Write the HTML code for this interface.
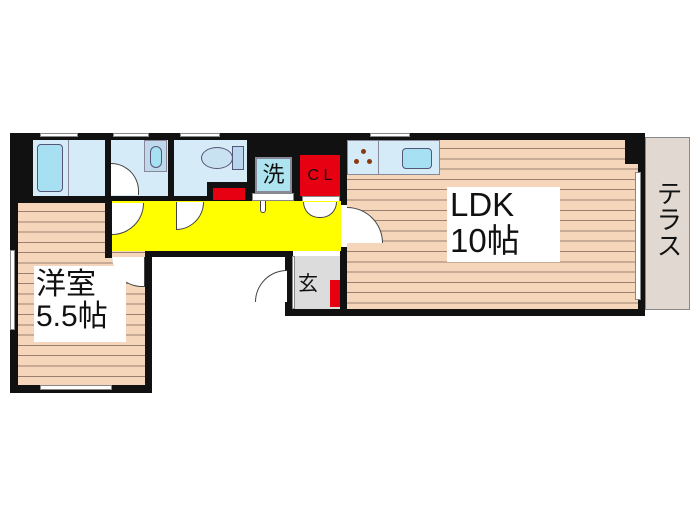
<!DOCTYPE html>
<html><head><meta charset="utf-8"><style>
body{margin:0;width:700px;height:525px;background:#fff;position:relative;overflow:hidden;font-family:"Liberation Sans","Noto Sans CJK JP",sans-serif}
div{position:absolute;box-sizing:border-box}
.k{background:#111}
.wood{background:repeating-linear-gradient(180deg,#f6d6ba 0,#f6d6ba 8px,#9a8070 8px,#9a8070 9px,#f6d6ba 9px,#f6d6ba 10.3px)}
.lb{background:#d6ebf8}
.lbl{background:#fff;color:#111;line-height:1.08}
.win{background:#fff;border:1px solid #888}
</style></head><body>
<div class="k" style="left:10px;top:133px;width:337px;height:70px"></div>
<div class="k" style="left:10px;top:133px;width:8px;height:260px"></div>
<div class="k" style="left:10px;top:385px;width:142px;height:8px"></div>
<div class="k" style="left:145px;top:250px;width:7px;height:143px"></div>
<div class="k" style="left:145px;top:250px;width:147px;height:7px"></div>
<div class="k" style="left:285px;top:250px;width:8px;height:66px"></div>
<div class="k" style="left:285px;top:309px;width:360px;height:7px"></div>
<div class="k" style="left:340px;top:133px;width:305px;height:8px"></div>
<div class="k" style="left:340px;top:133px;width:8px;height:183px"></div>
<div class="k" style="left:638px;top:133px;width:7px;height:183px"></div>
<div class="lb" style="left:33px;top:140px;width:72px;height:56px"></div>
<div style="left:37px;top:144px;width:26px;height:48px;background:#a6e0f2;border:1px solid #557;border-radius:4px"></div>
<div style="left:68px;top:140px;width:1px;height:56px;background:#889"></div>
<div class="lb" style="left:111px;top:140px;width:57px;height:56px"></div>
<div style="left:144px;top:140px;width:23px;height:32px;background:#c0d8ec;border:1px solid #889"></div>
<div style="left:150px;top:146px;width:12px;height:22px;background:#a6e0f2;border:1px solid #557;border-radius:6px"></div>
<div style="left:111px;top:163px;width:28px;height:32px;background:#fff;border:1px solid #444;border-left:none;border-bottom:none;border-radius:0 32px 0 0"></div>
<div class="lb" style="left:174px;top:140px;width:73px;height:56px"></div>
<div class="k" style="left:207px;top:182px;width:40px;height:18px"></div>
<div style="left:213px;top:188px;width:32px;height:12px;background:#e60012"></div>
<div style="left:201px;top:147px;width:32px;height:22px;background:#c8e2f2;border:1px solid #557;border-radius:50%"></div>
<div style="left:232px;top:146px;width:12px;height:24px;background:#b8d6ee;border:1px solid #557"></div>
<div class="win" style="left:40px;top:133px;width:38px;height:4px"></div>
<div class="win" style="left:113px;top:133px;width:36px;height:4px"></div>
<div class="win" style="left:180px;top:133px;width:40px;height:4px"></div>
<div class="win" style="left:370px;top:133px;width:40px;height:4px"></div>
<div style="left:255px;top:157px;width:37px;height:36px;background:#aee4f0;border:2px solid #889;font-size:22px;text-align:center;line-height:31px;color:#111">洗</div>
<div style="left:252px;top:193px;width:42px;height:8px;background:#fff;border:1px solid #888"></div>
<div style="left:300px;top:155px;width:40px;height:41px;background:#e60012;font-size:16px;text-align:center;line-height:41px;color:#111">C&nbsp;L</div>
<div style="left:302px;top:196px;width:38px;height:6px;background:#fff;border:1px solid #888"></div>
<div class="wood" style="left:18px;top:203px;width:127px;height:182px"></div>
<div class="k" style="left:105px;top:196px;width:7px;height:62px"></div>
<div style="left:112px;top:201px;width:229px;height:50px;background:#ffff00"></div>
<div style="left:112px;top:203px;width:32px;height:32px;border:1px solid #444;border-left:none;border-top:none;border-radius:0 0 32px 0;background:#fff"></div>
<div style="left:176px;top:202px;width:28px;height:28px;border:1px solid #444;border-top:none;border-radius:0 0 28px 0;background:#fff"></div>
<div style="left:260px;top:201px;width:6px;height:12px;background:#fff;border:1px solid #444;border-top:none;border-radius:0 0 4px 4px"></div>
<div style="left:303px;top:202px;width:34px;height:16px;background:#fff;border:1px solid #444;border-top:none;border-radius:0 0 16px 16px"></div>
<div style="left:341px;top:205px;width:6px;height:42px;background:#fff"></div>
<div style="left:112px;top:257px;width:33px;height:30px;background:#fff;border-right:1px solid #444;border-bottom:1px solid #444;border-radius:0 0 0 30px"></div>
<div class="win" style="left:10px;top:250px;width:5px;height:80px"></div>
<div class="win" style="left:40px;top:385px;width:72px;height:5px"></div>
<div class="lbl" style="left:34px;top:266px;width:92px;height:76px;font-size:30px;padding:3px 0 0 2px">洋室<br>5.5帖</div>
<div style="left:292px;top:256px;width:48px;height:53px;background:#dcdcdc"></div>
<div style="left:330px;top:280px;width:10px;height:27px;background:#e60012"></div>
<div style="left:292px;top:256px;width:3px;height:53px;background:#fff;border:1px solid #888"></div>
<div style="left:298px;top:267px;font-size:20px;color:#111">玄</div>
<div style="left:255px;top:270px;width:32px;height:32px;border:1px solid #444;border-right:none;border-bottom:none;border-radius:32px 0 0 0;background:#fff"></div>
<div class="wood" style="left:347px;top:140px;width:291px;height:169px"></div>
<div class="k" style="left:625px;top:140px;width:14px;height:24px"></div>
<div class="lb" style="left:347px;top:140px;width:93px;height:35px;border:1px solid #889"></div>
<div style="left:378px;top:140px;width:1px;height:35px;background:#889"></div>
<div style="left:361px;top:149px;width:5px;height:5px;border-radius:50%;background:#8a3a10"></div>
<div style="left:354px;top:159px;width:5px;height:5px;border-radius:50%;background:#8a3a10"></div>
<div style="left:367px;top:159px;width:5px;height:5px;border-radius:50%;background:#8a3a10"></div>
<div style="left:402px;top:148px;width:30px;height:21px;background:#a6e0f2;border:1px solid #557;border-radius:4px"></div>
<div style="left:347px;top:207px;width:36px;height:36px;background:#fff;border:1px solid #444;border-left:none;border-radius:0 36px 0 0;border-bottom:none"></div>
<div class="win" style="left:635px;top:172px;width:6px;height:128px"></div>
<div class="lbl" style="left:447px;top:187px;width:113px;height:75px;font-size:33px;padding:0 0 0 3px">LDK<br>10帖</div>
<div style="left:645px;top:137px;width:45px;height:173px;background:#e2d8d2;border:1px solid #888"></div>
<div style="left:652px;top:180px;width:30px;font-size:26px;line-height:1.15;writing-mode:vertical-rl;color:#111">テラス</div>
</body></html>
